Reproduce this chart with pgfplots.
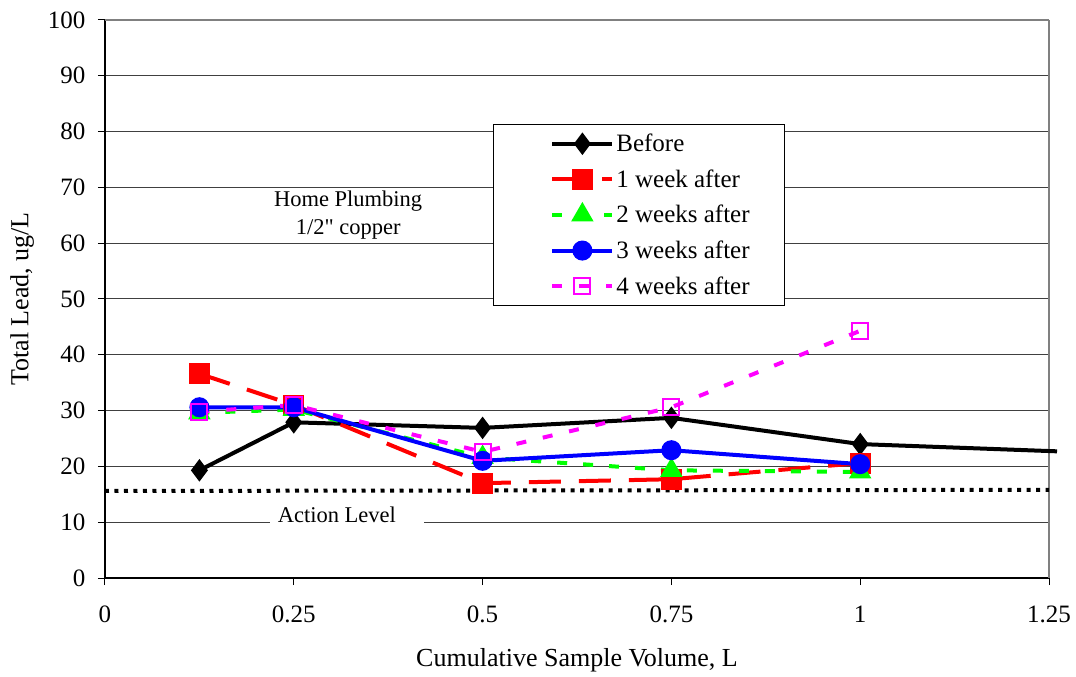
\documentclass[border=0pt]{standalone}
\usepackage{pgfplots}
\pgfplotsset{compat=1.18}
\usepackage{fontspec}
\setmainfont{Liberation Serif}
\newfontfamily\qfont{Liberation Serif}[Ligatures=ResetAll]

\definecolor{sred}{RGB}{255,0,0}
\definecolor{sgreen}{RGB}{0,255,0}
\definecolor{sblue}{RGB}{0,0,255}
\definecolor{smag}{RGB}{255,0,255}
\definecolor{gridgray}{RGB}{128,128,128}

\newcommand{\legtxt}[1]{\makebox[160pt][l]{#1}}

\begin{document}
\begin{tikzpicture}
\begin{axis}[
  scale only axis,
  width=944pt, height=558pt,
  xmin=0, xmax=1.25, ymin=0, ymax=100,
  axis lines=left,
  axis line style={-, line width=1.2pt, black},
  xtick={0,0.25,0.5,0.75,1,1.25},
  xticklabels={0,0.25,0.5,0.75,1,1.25},
  ytick={0,10,...,100},
  tick align=outside,
  major tick length=7pt,
  tick style={black, line width=1pt},
  ymajorgrids,
  major grid style={line width=1pt, black!75},
  /pgf/number format/assume math mode=true,
  tick label style={font=\fontsize{25}{29}\selectfont},
  yticklabel style={xshift=-9pt},
  xticklabel style={yshift=-17pt},
  xlabel={Cumulative Sample Volume, L},
  ylabel={Total Lead, ug/L},
  label style={font=\fontsize{26}{30}\selectfont},
  xlabel style={yshift=-19pt},
  ylabel style={yshift=7pt},
  clip=false,
  legend style={at={(rel axis cs:0.411,0.814)}, anchor=north west,
    draw=black, line width=0.8pt, fill=white,
    font=\fontsize{25}{29}\selectfont,
    row sep=12.5pt, inner xsep=6pt, inner ysep=8pt},
  legend cell align=left,
  legend image code/.code={
    \path[draw=none, fill=none] (-53pt,0pt) -- (60pt,0pt);
    \draw[#1] (0pt,0pt) -- (60pt,0pt);
    \draw[#1, solid] plot coordinates {(30pt,0pt)};
  },
]
\coordinate (sw) at (rel axis cs:0,0);
\coordinate (ne) at (rel axis cs:1,1);
\draw[gridgray, line width=1.2pt] (rel axis cs:1,0) -- (rel axis cs:1,1);
\draw[gridgray, line width=1.2pt] (rel axis cs:0,1) -- (rel axis cs:1,1);

% action level
\fill[white] (axis cs:0.219,9) rectangle (axis cs:0.4226,11);
\node[font=\fontsize{22.5}{26}\selectfont] at (axis cs:0.307,11.3) {Action Level};
\addplot[forget plot, black, line width=4pt, dash pattern=on 4pt off 5.5pt]
  coordinates {(0,15.6) (1.25,15.8)};

\node[font=\fontsize{22.5}{28}\selectfont, align=center] at (axis cs:0.322,65.1)
  {Home Plumbing\\1/2{\qfont "} copper};

% Before (last point runs past the axis edge)
\addplot[black, line width=4pt, mark=diamond*, mark size=8pt,
  mark options={solid}]
  coordinates {(0.125,19.3) (0.25,27.9) (0.5,26.9) (0.75,28.7) (1,24.0)};
\addlegendentry{\legtxt{Before}}
\addplot[forget plot, black, line width=4pt]
  coordinates {(1,24.0) (1.2606,22.7)};

% 1 week after
\addplot[sred, line width=4pt, dash pattern=on 32pt off 18pt,
  mark=square*, mark size=8.5pt, mark options={solid}]
  coordinates {(0.125,36.6) (0.25,31.0) (0.5,17.0) (0.75,17.7) (1,20.6)};
\addlegendentry{\legtxt{1 week after}}

% 2 weeks after
\addplot[sgreen, line width=4pt, dash pattern=on 10pt off 16pt,
  mark=triangle*, mark size=9pt, mark options={solid}]
  coordinates {(0.125,29.6) (0.25,30.2) (0.5,21.6) (0.75,19.3) (1,19.0)};
\addlegendentry{\legtxt{2 weeks after}}

% 3 weeks after
\addplot[sblue, line width=4pt, mark=*, mark size=8pt,
  mark options={solid}]
  coordinates {(0.125,30.6) (0.25,30.6) (0.5,21.0) (0.75,22.9) (1,20.4)};
\addlegendentry{\legtxt{3 weeks after}}

% 4 weeks after
\addplot[smag, line width=4pt, dash pattern=on 10pt off 17pt,
  mark=square, mark size=8pt, mark options={solid, line width=2pt}]
  coordinates {(0.125,29.8) (0.25,31.0) (0.5,22.6) (0.75,30.6) (1,44.3)};
\addlegendentry{\legtxt{4 weeks after}}
\end{axis}
\pgfresetboundingbox
\path[use as bounding box] ([shift={(-105pt,-99pt)}]sw) rectangle ([shift={(27pt,20pt)}]ne);
\end{tikzpicture}
\end{document}
